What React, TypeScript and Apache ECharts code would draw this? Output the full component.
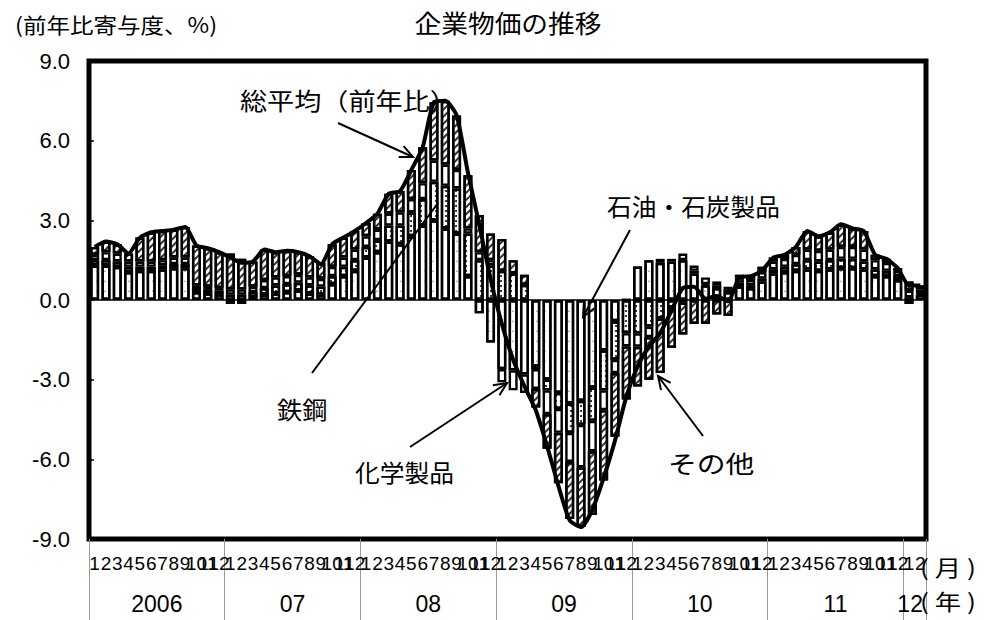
import React, { useEffect, useRef } from "react";
import * as echarts from "echarts";

// ---- data (year-on-year contribution, %) : Jan 2006 - Feb 2012 ----
const monthLabels: string[] = [];
for (let y = 0; y < 6; y++) for (let m = 1; m <= 12; m++) monthLabels.push(String(m));
monthLabels.push("1", "2");

const yearLabels = ["2006", "07", "08", "09", "10", "11", "12"];
const yearCenters = [6, 18, 30, 42, 54, 66, 72.6];
const yearBounds = [0, 12, 24, 36, 48, 60, 72, 74];

const totalAvg = [
  2.0, 2.2, 2.1, 1.75, 2.35, 2.55, 2.6, 2.65, 2.75, 2.05, 1.95, 1.8,
  1.6, 1.4, 1.45, 1.9, 1.8, 1.85, 1.8, 1.65, 1.35, 2.1, 2.35, 2.6,
  2.9, 3.25, 4.0, 4.1, 4.9, 5.75, 7.45, 7.5, 6.95, 4.8, 2.85, 0.8,
  -0.9, -2.25, -3.25, -4.15, -5.5, -7.0, -8.3, -8.55, -7.9, -6.7, -5.3, -3.65,
  -2.5, -1.75, -1.25, -0.4, 0.45, 0.5, 0.05, 0.15, -0.05, 0.85, 0.9, 1.1,
  1.6, 1.7, 2.0, 2.6, 2.4, 2.55, 2.85, 2.7, 2.6, 1.7, 1.55, 1.2,
  0.55, 0.55,
];

const petroleum = [
  1.3, 1.3, 1.25, 1.05, 1.1, 1.1, 1.15, 1.2, 1.2, 0.3, 0.25, 0.2,
  -0.15, -0.15, 0.1, 0.2, 0.25, 0.3, 0.35, 0.25, 0.2, 0.6, 0.9, 1.1,
  1.6, 1.8, 2.2, 2.1, 2.4, 2.8, 3.0, 2.7, 2.5, 0.9, -0.5, -1.6,
  -2.6, -2.65, -2.8, -2.5, -3.0, -3.5, -3.9, -3.8, -3.3, -1.9, -0.8, 0.0,
  1.26, 1.5, 1.4, 1.45, 1.5, 1.0, 0.55, 0.45, 0.3, 0.5, 0.45, 0.7,
  1.0, 1.05, 1.1, 1.15, 1.1, 1.15, 1.2, 1.2, 1.15, 0.9, 0.9, 0.75,
  -0.15, 0.2,
];

const steel = [
  0.2, 0.2, 0.2, 0.2, 0.15, 0.15, 0.15, 0.15, 0.15, 0.15, 0.15, 0.15,
  0.2, 0.2, 0.2, 0.25, 0.3, 0.3, 0.3, 0.3, 0.3, 0.3, 0.35, 0.4,
  0.4, 0.45, 0.6, 0.7, 0.9, 1.0, 1.45, 1.6, 1.7, 1.6, 1.5, 1.3,
  1.1, 1.0, 0.57, -0.1, -0.4, -0.6, -1.1, -0.9, -1.25, -1.5, -1.45, -1.25,
  -1.26, -1.0, -0.7, -0.3, -0.1, 0.1, 0.05, 0.1, 0.1, 0.15, 0.1, 0.1,
  0.15, 0.2, 0.25, 0.35, 0.35, 0.35, 0.35, 0.35, 0.3, 0.25, 0.2, 0.15,
  0.1, 0.05,
];

const chemicals = [
  0.2, 0.3, 0.3, 0.2, 0.2, 0.2, 0.2, 0.25, 0.25, 0.1, 0.1, 0.1,
  0.2, 0.2, 0.2, 0.3, 0.3, 0.3, 0.3, 0.3, 0.3, 0.35, 0.35, 0.4,
  0.4, 0.4, 0.45, 0.5, 0.5, 0.6, 0.8, 0.8, 0.7, 0.2, 0.3, 0.2,
  -0.5, -0.75, -0.7, -0.75, -0.9, -0.9, -1.1, -1.6, -1.15, -0.75, -0.5, -0.5,
  -0.5, -0.4, 0.15, 0.1, 0.25, 0.2, 0.25, 0.15, 0.1, 0.2, 0.2, 0.25,
  0.3, 0.3, 0.35, 0.4, 0.4, 0.4, 0.45, 0.45, 0.45, 0.35, 0.3, 0.2,
  0.25, 0.15,
];

const others = [
  0.3, 0.4, 0.35, 0.3, 0.9, 1.1, 1.1, 1.05, 1.15, 1.5, 1.45, 1.35,
  1.35, 1.15, 0.95, 1.15, 0.95, 0.95, 0.85, 0.8, 0.6, 0.85, 0.75, 0.7,
  0.5, 0.6, 0.75, 0.8, 1.1, 1.35, 2.2, 2.4, 2.05, 2.0, 1.4, 1.0,
  1.2, 0.5, 0.38, -0.7, -1.3, -1.9, -2.15, -2.25, -2.4, -2.65, -2.4, -2.0,
  -1.5, -1.6, -2.05, -1.5, -1.2, -0.9, -0.9, -0.55, -0.6, 0.1, 0.15, 0.2,
  0.15, 0.15, 0.3, 0.7, 0.55, 0.65, 0.85, 0.7, 0.7, 0.2, 0.15, 0.1,
  0.35, 0.15,
];

const yTicks = { min: -9, max: 9, interval: 3 };

const LATIN = "'Liberation Sans', Arial, sans-serif";
const CJK = "'Noto Sans CJK JP', 'Noto Sans', sans-serif";

function arrowEls(x1: number, y1: number, x2: number, y2: number, head: boolean) {
  const els: any[] = [
    { type: "line", z: 100, shape: { x1, y1, x2, y2 }, style: { stroke: "#000", lineWidth: 2 } },
  ];
  if (head) {
    const dx = x2 - x1, dy = y2 - y1;
    const L = Math.hypot(dx, dy);
    const ux = dx / L, uy = dy / L;
    const hl = 13, hw = 6;
    const bx = x2 - ux * hl, by = y2 - uy * hl;
    els.push({
      type: "polyline",
      z: 100,
      shape: { points: [[bx - uy * hw, by + ux * hw], [x2, y2], [bx + uy * hw, by - ux * hw]] },
      style: { stroke: "#000", lineWidth: 2, fill: null },
    });
  }
  return els;
}

function textEl(text: string, x: number, y: number, size: number, align: string, sx = 1) {
  return {
    type: "text",
    z: 100,
    x,
    y,
    scaleX: sx,
    style: {
      text,
      fontSize: size,
      fontFamily: CJK,
      fill: "#000",
      align,
      verticalAlign: "middle",
      textAlign: align,
      textVerticalAlign: "middle",
    },
  };
}

export default function App() {
  const ref = useRef<HTMLDivElement>(null);
  useEffect(() => {
    if (!ref.current) return;
    const chart = echarts.init(ref.current, undefined, { renderer: "svg" });

    const oilDecal = { symbol: "triangle", symbolSize: 0.8, dashArrayX: [2, 6], dashArrayY: [2, 8], color: "#555", rotation: 0 };
    const steelDecal = { symbol: "circle", symbolSize: 1, dashArrayX: [1.1, 3], dashArrayY: [1.1, 3], color: "#111", rotation: 0 };
    const otherDecal = { symbol: "rect", symbolSize: 1, dashArrayX: [1, 0], dashArrayY: [1.2, 2.6], color: "#333", rotation: -Math.PI / 4 };

    const bar = (name: string, data: number[], decal: any) => ({
      type: "bar",
      name,
      data,
      stack: "contrib",
      xAxisIndex: 0,
      barWidth: 9,
      itemStyle: { color: "#fff", borderColor: "#000", borderWidth: 2.4, decal },
      emphasis: { disabled: true },
      z: 2,
    });

    const graphics: any[] = [
      textEl("(前年比寄与度、%)", 15, 24, 21, "left", 1.12),
      textEl("企業物価の推移", 508, 22, 25, "center", 1.07),
      textEl("総平均（前年比）", 240, 99, 24, "left", 1.13),
      ...arrowEls(338, 123, 413, 157, true),
      textEl("鉄鋼", 277, 408, 24, "left", 1.05),
      ...arrowEls(312, 373, 438, 203, false),
      textEl("化学製品", 355, 472, 24, "left", 1.03),
      ...arrowEls(410, 447, 507, 383, true),
      textEl("石油・石炭製品", 607, 206, 24, "left", 1.03),
      ...arrowEls(630, 230, 583, 317, true),
      textEl("その他", 668, 463, 24, "left", 1.2),
      ...arrowEls(703, 436, 658, 376, true),
      textEl("( 月 )", 920, 566, 22, "left", 1.2),
      textEl("( 年 )", 920, 600, 22, "left", 1.2),
    ];

    chart.setOption({
      animation: false,
      backgroundColor: "#fff",
      textStyle: { fontFamily: LATIN, color: "#000" },
      grid: {
        left: 89, right: 73, top: 61, bottom: 81,
        show: true, borderColor: "#000", borderWidth: 5, backgroundColor: "transparent",
      },
      xAxis: [
        {
          type: "category",
          data: monthLabels,
          position: "bottom",
          axisLine: { onZero: true, lineStyle: { color: "#000", width: 1.5 } },
          axisTick: { inside: true, length: 4, interval: 0, lineStyle: { color: "#999" } },
          axisLabel: { show: false },
          splitLine: { show: false },
        },
        {
          type: "category",
          data: monthLabels,
          position: "bottom",
          axisLine: { show: false, onZero: false },
          axisTick: { length: 39, interval: 0, lineStyle: { color: "#aaa", width: 1 } },
          axisLabel: { interval: 0, fontSize: 19, margin: 15, color: "#000", fontFamily: LATIN },
          splitLine: { show: false },
        },
        {
          type: "value",
          min: 0,
          max: 74,
          position: "bottom",
          axisLine: { show: false, onZero: false },
          splitLine: { show: false },
          axisTick: { customValues: yearBounds, length: 81, lineStyle: { color: "#999", width: 1 } },
          axisLabel: {
            customValues: yearCenters,
            formatter: (v: number) => yearLabels[yearCenters.indexOf(v)] ?? "",
            fontSize: 23,
            margin: 53,
            color: "#000",
            fontFamily: LATIN,
          },
        },
      ],
      yAxis: {
        type: "value",
        min: yTicks.min,
        max: yTicks.max,
        interval: yTicks.interval,
        axisLine: { show: false },
        axisTick: { show: true, inside: true, length: 5, lineStyle: { color: "#000", width: 1.5 } },
        splitLine: { show: false },
        axisLabel: { formatter: (v: number) => v.toFixed(1), fontSize: 22, margin: 19, color: "#000", fontFamily: LATIN },
      },
      series: [
        bar("石油・石炭製品", petroleum, oilDecal),
        bar("鉄鋼", steel, steelDecal),
        bar("化学製品", chemicals, null),
        bar("その他", others, otherDecal),
        {
          type: "line",
          name: "総平均（前年比）",
          data: totalAvg,
          xAxisIndex: 0,
          symbol: "none",
          smooth: 0.2,
          lineStyle: { color: "#000", width: 4 },
          z: 5,
        },
      ],
      graphic: graphics,
    });

    return () => chart.dispose();
  }, []);

  return (
    <div
      ref={ref}
      style={{ position: "absolute", left: 0, top: 0, width: 999, height: 620, background: "#fff" }}
    />
  );
}
